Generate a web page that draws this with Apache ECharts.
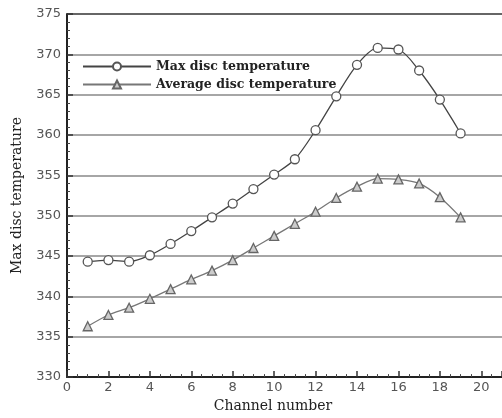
<!DOCTYPE html>
<html>
<head>
<meta charset="utf-8">
<script src="https://cdn.jsdelivr.net/npm/echarts@6/dist/echarts.min.js"></script>
<style>
  html, body { margin: 0; padding: 0; background: #fff; }
  #chart { width: 502px; height: 418px; }
</style>
</head>
<body>
<div id="chart"></div>
<script>
// channel numbers and temperatures
const channels = [1, 2, 3, 4, 5, 6, 7, 8, 9, 10, 11, 12, 13, 14, 15, 16, 17, 18, 19]
const maxTemp = [344.3, 344.5, 344.3, 345.1, 346.5, 348.1, 349.8, 351.5, 353.3, 355.1, 357.0,
  360.6, 364.8, 368.7, 370.8, 370.6, 368.0, 364.4, 360.2]
const avgTemp = [336.3, 337.7, 338.6, 339.7, 340.9, 342.1, 343.2, 344.5, 346.0, 347.5, 349.0,
  350.5, 352.2, 353.6, 354.6, 354.5, 354.0, 352.3, 349.8]
const seriesNames = ['Max disc temperature', 'Average disc temperature']

const chart = echarts.init(document.getElementById('chart'))

const pairs = (ys) => channels.map((c, i) => [c, ys[i]])
const labelFont = { color: '#555', fontFamily: 'DejaVu Sans', fontSize: 13 }
const serif = 'DejaVu Serif'

// grid lines gray, the top one (375) dark like a frame
const gridColors = ['#888', '#888', '#888', '#888', '#888', '#888', '#888', '#888', '#888', '#333']

const option = {
  animation: false,
  backgroundColor: '#fff',
  legend: {
    orient: 'vertical',
    left: 77,
    top: 55,
    itemWidth: 68,
    itemHeight: 10,
    itemGap: 5,
    textStyle: { fontFamily: serif, fontWeight: 'bold', fontSize: 12.5, color: '#222' },
    data: seriesNames
  },
  grid: { left: 67, right: 0, top: 14, bottom: 36 },
  xAxis: {
    type: 'value',
    min: 0,
    max: 21,
    interval: 2,
    name: 'Channel number',
    nameLocation: 'middle',
    nameGap: 19,
    nameTextStyle: { fontFamily: serif, fontSize: 14, color: '#222', padding: [0, 23, 0, 0] },
    axisLine: { lineStyle: { color: '#222', width: 2 } },
    axisTick: { inside: true, length: 6, lineStyle: { color: '#333', width: 1.5 } },
    minorTick: { show: true, splitNumber: 4, length: 3, lineStyle: { color: '#444' } },
    axisLabel: Object.assign({ showMaxLabel: false, margin: 4 }, labelFont),
    splitLine: { show: false }
  },
  yAxis: {
    type: 'value',
    min: 330,
    max: 375,
    interval: 5,
    name: 'Max disc temperature',
    nameLocation: 'middle',
    nameGap: 43,
    nameTextStyle: { fontFamily: serif, fontSize: 14, color: '#222' },
    axisLine: { show: true, lineStyle: { color: '#222', width: 2 } },
    axisTick: { inside: true, length: 6, lineStyle: { color: '#333', width: 1.5 } },
    minorTick: { show: true, splitNumber: 5, length: 3, lineStyle: { color: '#444' } },
    axisLabel: Object.assign({ margin: 6 }, labelFont),
    splitLine: { lineStyle: { color: gridColors, width: 1.5 } }
  },
  series: [
    {
      name: seriesNames[0],
      type: 'line',
      smooth: 0.3,
      data: pairs(maxTemp),
      symbol: 'circle',
      symbolSize: 9,
      lineStyle: { color: '#444', width: 1.3 },
      itemStyle: { color: '#fff', borderColor: '#555', borderWidth: 1.3 }
    },
    {
      name: seriesNames[1],
      type: 'line',
      smooth: 0.3,
      data: pairs(avgTemp),
      symbol: 'triangle',
      symbolSize: 9,
      lineStyle: { color: '#777', width: 1.3 },
      itemStyle: { color: '#ccc', borderColor: '#666', borderWidth: 1.3 }
    }
  ]
}
chart.setOption(option)
</script>
</body>
</html>
